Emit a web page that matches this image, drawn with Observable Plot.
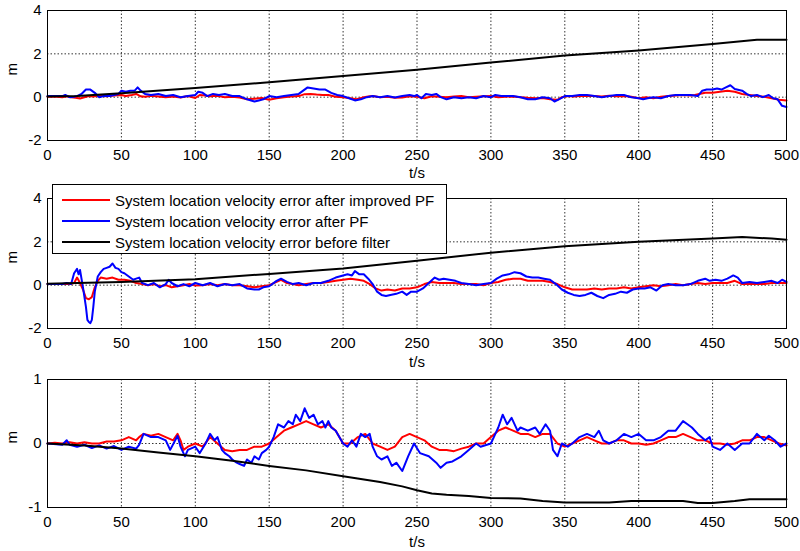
<!DOCTYPE html>
<html>
<head>
<meta charset="utf-8">
<script src="https://cdn.jsdelivr.net/npm/d3@7"></script>
<script src="https://cdn.jsdelivr.net/npm/@observablehq/plot@0.6"></script>
<style>
  html, body { margin: 0; padding: 0; background: #fff; }
  #wrap { position: relative; width: 800px; height: 551px; overflow: hidden; font-family: "Liberation Sans", Arial, sans-serif; }
  #wrap svg { position: absolute; left: 0; }
  #legend { position: absolute; left: 52px; top: 184px; width: 393px; height: 68px; background: #fff; border: 1px solid #000; font-size: 15px; }
  .row { position: absolute; left: 0; height: 20px; display: flex; align-items: center; }
  .sw { width: 48px; height: 2px; margin-left: 9px; margin-right: 5px; }
</style>
</head>
<body>
<div id="wrap"></div>
<script>
const xTicks = [0, 50, 100, 150, 200, 250, 300, 350, 400, 450, 500];
const yTicksA = [-2, 0, 2, 4];
const yTicksC = [-1, 0, 1];
const seriesNames = [
  "System location velocity error after improved PF",
  "System location velocity error after PF",
  "System location velocity error before filter"
];
const seriesColors = ["#ff0000", "#0000ff", "#000000"];

// Panel 1 : [t (s), error (m)]
const p1Red = [[0,0.02],[5,0.03],[10,0.0],[13,0.04],[16,0.0],[19,-0.03],[22,-0.06],[25,0.0],[28,0.05],[31,0.03],[35,0.06],[40,0.04],[45,0.08],[50,0.1],[53,0.05],[57,0.1],[60,0.15],[63,0.04],[66,0.02],[70,0.06],[75,0.03],[80,0.0],[85,0.03],[90,-0.02],[95,0.05],[100,-0.04],[103,0.1],[107,0.08],[110,0.04],[115,0.06],[120,0.0],[125,0.02],[130,-0.02],[135,-0.1],[140,-0.07],[145,-0.04],[150,-0.12],[155,-0.05],[160,0.0],[165,0.03],[170,0.05],[174,0.14],[178,0.15],[182,0.12],[186,0.1],[190,0.1],[195,0.02],[200,0.0],[205,-0.05],[209,-0.1],[213,-0.02],[217,0.03],[220,0.05],[225,0.0],[230,0.02],[235,-0.03],[240,-0.02],[245,0.04],[250,0.02],[255,-0.05],[260,0.04],[265,0.02],[270,0.0],[275,0.03],[280,0.05],[285,0.0],[290,0.02],[295,0.04],[300,0.05],[305,0.0],[310,0.02],[315,0.03],[320,0.0],[325,-0.03],[330,-0.05],[335,-0.04],[340,-0.1],[345,-0.12],[348,0.0],[352,0.05],[356,0.03],[360,0.05],[365,0.07],[370,0.05],[375,0.03],[380,0.06],[385,0.04],[390,0.05],[395,0.02],[400,-0.05],[405,0.0],[410,-0.05],[415,0.02],[420,0.05],[425,0.08],[430,0.1],[435,0.08],[438,0.1],[441,0.15],[445,0.2],[450,0.2],[455,0.25],[460,0.3],[465,0.25],[470,0.15],[475,0.1],[480,0.05],[485,0.02],[490,-0.05],[495,-0.12],[500,-0.15]];
const p1Blue = [[0,0.05],[5,0.05],[10,0.05],[12,0.1],[15,0.0],[18,0.02],[20,0.05],[23,0.15],[26,0.35],[29,0.35],[32,0.2],[35,0.0],[38,0.05],[42,0.05],[45,0.1],[48,0.15],[50,0.3],[53,0.25],[56,0.3],[59,0.3],[61,0.45],[63,0.3],[66,0.15],[70,0.1],[75,0.15],[80,0.05],[85,0.1],[90,0.0],[95,0.05],[100,0.1],[102,0.25],[105,0.2],[108,0.05],[112,0.15],[116,0.1],[120,0.15],[125,0.05],[130,0.05],[135,-0.1],[140,-0.2],[143,-0.15],[146,-0.1],[150,0.05],[155,0.0],[160,0.05],[165,0.1],[170,0.15],[173,0.3],[176,0.45],[180,0.4],[184,0.35],[188,0.35],[192,0.2],[196,0.1],[200,0.05],[204,-0.05],[208,-0.15],[212,-0.1],[216,0.0],[220,0.05],[225,0.0],[230,0.05],[235,-0.02],[240,0.05],[245,0.1],[248,0.05],[250,0.1],[253,-0.05],[256,0.15],[260,0.1],[263,0.15],[266,0.0],[270,-0.1],[275,0.0],[280,-0.05],[285,0.0],[290,-0.05],[295,0.05],[300,0.0],[303,0.1],[307,0.05],[310,0.05],[315,0.05],[320,0.0],[325,-0.1],[330,-0.1],[335,0.0],[340,-0.05],[343,-0.2],[346,-0.1],[350,0.05],[355,0.05],[360,0.1],[365,0.1],[370,0.05],[375,0.0],[380,0.05],[385,0.1],[390,0.1],[395,0.0],[400,-0.05],[403,-0.1],[406,-0.05],[410,0.0],[415,-0.05],[420,0.05],[425,0.1],[430,0.1],[435,0.1],[440,0.05],[443,0.3],[446,0.35],[450,0.35],[453,0.4],[456,0.35],[459,0.45],[462,0.55],[465,0.38],[470,0.3],[473,0.15],[476,0.05],[480,0.1],[484,0.0],[488,0.1],[491,-0.05],[494,-0.1],[497,-0.4],[500,-0.45]];
const p1Black = [[0,0.03],[20,0.05],[50,0.18],[100,0.42],[150,0.69],[200,0.98],[250,1.26],[300,1.6],[350,1.92],[400,2.15],[450,2.45],[480,2.65],[500,2.65]];

// Panel 2
const p2Red = [[0,0.05],[10,0.05],[15,0.05],[18,0.1],[20,0.35],[22,0.1],[24,-0.2],[26,-0.6],[28,-0.65],[30,-0.55],[32,-0.1],[34,0.2],[36,0.35],[40,0.3],[44,0.35],[48,0.25],[52,0.25],[56,0.2],[60,0.1],[64,0.05],[68,0.0],[72,0.05],[76,-0.05],[80,0.0],[84,-0.1],[88,-0.05],[92,0.0],[96,0.05],[100,-0.02],[105,0.0],[110,0.05],[115,0.0],[120,0.05],[125,0.0],[130,0.0],[135,-0.05],[140,-0.1],[145,-0.05],[150,0.0],[155,0.15],[158,0.25],[162,0.1],[166,0.05],[170,0.0],[175,0.05],[180,0.1],[185,0.1],[190,0.15],[195,0.2],[200,0.25],[205,0.3],[210,0.25],[214,0.2],[218,0.05],[222,-0.15],[226,-0.25],[230,-0.2],[235,-0.25],[240,-0.15],[245,-0.15],[250,-0.1],[255,0.05],[260,0.15],[265,0.1],[270,0.1],[275,0.1],[280,0.05],[285,0.05],[290,0.05],[295,0.0],[300,0.1],[305,0.15],[310,0.25],[315,0.3],[320,0.3],[325,0.2],[330,0.2],[335,0.2],[340,0.15],[345,0.05],[350,-0.1],[355,-0.2],[360,-0.2],[365,-0.2],[370,-0.15],[375,-0.2],[380,-0.15],[385,-0.15],[390,-0.1],[395,-0.15],[400,-0.1],[405,-0.05],[410,0.0],[415,-0.05],[420,0.0],[425,0.05],[430,0.0],[435,0.05],[440,0.1],[445,0.05],[450,0.1],[455,0.1],[460,0.1],[465,0.2],[470,0.05],[475,0.05],[480,0.05],[485,0.05],[490,0.1],[495,0.1],[500,0.1]];
const p2Blue = [[0,0.05],[10,0.05],[13,0.1],[16,0.05],[18,0.55],[20,0.75],[21,0.5],[22,0.7],[23,0.3],[24,-0.1],[26,-1.0],[27,-1.6],[28,-1.7],[29,-1.75],[30,-1.6],[31,-1.0],[32,-0.3],[34,0.4],[36,0.6],[38,0.75],[40,0.8],[42,0.85],[44,1.0],[46,0.8],[48,0.75],[50,0.6],[52,0.55],[55,0.4],[58,0.25],[60,0.3],[62,0.35],[64,0.1],[68,0.0],[72,0.1],[76,-0.1],[80,0.05],[82,0.25],[84,0.1],[88,-0.05],[92,0.05],[96,-0.05],[100,0.1],[105,0.0],[110,0.1],[115,-0.05],[120,0.05],[125,0.0],[130,0.05],[135,-0.15],[140,-0.2],[143,-0.2],[146,-0.1],[150,-0.05],[155,0.2],[158,0.3],[162,0.15],[166,0.05],[170,0.1],[175,0.0],[180,0.1],[185,0.1],[190,0.2],[195,0.35],[200,0.45],[203,0.5],[206,0.45],[208,0.65],[211,0.5],[214,0.5],[217,0.3],[220,0.05],[223,-0.3],[226,-0.45],[229,-0.5],[232,-0.45],[236,-0.4],[240,-0.3],[243,-0.45],[246,-0.3],[250,-0.3],[254,-0.15],[258,0.1],[262,0.35],[265,0.25],[268,0.3],[272,0.25],[276,0.2],[280,0.1],[285,0.05],[290,0.0],[295,0.05],[300,0.1],[304,0.3],[308,0.45],[312,0.5],[316,0.6],[320,0.55],[324,0.4],[328,0.35],[332,0.35],[336,0.3],[340,0.25],[344,0.05],[348,-0.2],[352,-0.35],[356,-0.45],[360,-0.5],[364,-0.45],[368,-0.35],[372,-0.5],[376,-0.6],[380,-0.45],[384,-0.4],[388,-0.3],[392,-0.35],[396,-0.2],[400,-0.15],[404,-0.15],[408,-0.1],[412,-0.25],[416,0.0],[420,0.05],[425,0.0],[430,0.0],[435,0.05],[440,0.2],[445,0.3],[448,0.2],[452,0.25],[456,0.2],[460,0.3],[464,0.45],[467,0.35],[470,0.1],[475,0.15],[480,0.1],[485,0.15],[490,0.2],[494,0.1],[497,0.25],[500,0.15]];
const p2Black = [[0,0.06],[20,0.1],[50,0.15],[100,0.27],[150,0.52],[200,0.77],[250,1.13],[300,1.5],[350,1.8],[400,2.0],[450,2.15],[470,2.22],[490,2.15],[500,2.1]];

// Panel 3
const p3Red = [[0,0.0],[5,0.01],[10,0.0],[15,0.02],[20,0.0],[25,0.02],[30,0.0],[35,0.0],[40,0.03],[45,0.03],[50,0.05],[55,0.1],[60,0.05],[62,0.1],[65,0.15],[70,0.12],[75,0.15],[80,0.1],[85,0.05],[88,0.15],[90,0.05],[92,-0.1],[95,-0.05],[100,0.0],[105,-0.05],[110,0.1],[115,0.0],[120,-0.1],[125,-0.12],[130,-0.1],[135,-0.1],[140,-0.05],[145,-0.05],[150,0.0],[155,0.1],[160,0.2],[165,0.25],[170,0.3],[175,0.35],[180,0.3],[185,0.25],[190,0.3],[195,0.2],[200,0.0],[205,0.0],[210,0.1],[215,0.15],[220,0.0],[225,-0.05],[230,-0.1],[235,-0.05],[240,0.1],[245,0.15],[250,0.1],[255,0.05],[260,-0.05],[265,-0.1],[270,-0.1],[275,-0.12],[280,-0.08],[285,-0.05],[290,0.0],[295,0.0],[300,0.1],[305,0.2],[310,0.25],[315,0.2],[320,0.15],[325,0.15],[330,0.1],[335,0.15],[340,0.15],[345,0.0],[350,-0.05],[355,0.0],[360,0.05],[365,0.1],[370,0.05],[375,0.0],[380,0.0],[385,0.05],[390,0.05],[395,0.0],[400,0.0],[405,-0.02],[410,0.0],[415,0.05],[420,0.1],[425,0.1],[430,0.15],[435,0.1],[440,0.05],[445,0.05],[450,0.0],[455,0.0],[460,-0.02],[465,0.0],[470,0.05],[475,0.05],[480,0.1],[485,0.1],[490,0.05],[495,0.0],[500,-0.03]];
const p3Blue = [[0,0.0],[10,-0.02],[13,0.05],[15,-0.02],[20,-0.05],[25,-0.02],[30,-0.07],[35,-0.03],[40,-0.08],[45,-0.04],[50,-0.1],[55,-0.05],[60,-0.08],[62,-0.02],[65,0.15],[70,0.1],[75,0.1],[80,0.05],[83,-0.1],[88,0.12],[90,-0.05],[93,-0.2],[95,-0.1],[100,-0.05],[103,-0.15],[107,0.0],[110,0.15],[113,0.05],[115,0.1],[118,-0.1],[120,-0.15],[123,-0.2],[125,-0.25],[128,-0.3],[130,-0.32],[133,-0.35],[135,-0.25],[138,-0.3],[140,-0.2],[143,-0.25],[145,-0.15],[148,-0.1],[150,-0.05],[153,0.1],[156,0.3],[160,0.25],[163,0.35],[166,0.3],[168,0.45],[171,0.35],[174,0.55],[177,0.4],[180,0.45],[183,0.3],[186,0.35],[188,0.25],[190,0.35],[192,0.25],[195,0.2],[200,0.0],[203,-0.05],[206,0.05],[209,-0.05],[212,0.15],[215,0.1],[218,0.15],[220,-0.05],[223,-0.2],[226,-0.25],[230,-0.2],[233,-0.35],[236,-0.3],[240,-0.43],[244,-0.2],[248,0.0],[252,-0.15],[258,-0.2],[263,-0.3],[266,-0.38],[270,-0.3],[274,-0.28],[280,-0.2],[285,-0.1],[290,0.0],[293,-0.05],[300,0.0],[303,0.15],[305,0.25],[308,0.45],[311,0.3],[314,0.4],[318,0.2],[320,0.25],[325,0.2],[330,0.25],[333,0.15],[337,0.3],[340,0.2],[342,-0.1],[345,-0.2],[348,0.0],[352,-0.05],[355,0.0],[360,0.1],[365,0.15],[370,0.1],[373,0.2],[376,0.05],[380,0.0],[385,0.05],[390,0.15],[395,0.1],[400,0.15],[405,0.05],[410,0.05],[415,0.1],[420,0.2],[425,0.2],[430,0.35],[433,0.3],[436,0.25],[440,0.15],[445,0.05],[448,0.1],[450,-0.05],[455,-0.1],[460,0.0],[465,-0.1],[470,0.0],[475,0.0],[480,0.15],[485,0.05],[488,0.12],[492,0.05],[496,-0.05],[500,0.0]];
const p3Black = [[0,0],[25,-0.03],[50,-0.08],[75,-0.14],[100,-0.2],[125,-0.27],[150,-0.35],[175,-0.42],[200,-0.51],[225,-0.6],[240,-0.67],[250,-0.73],[260,-0.78],[270,-0.8],[285,-0.82],[300,-0.85],[320,-0.86],[335,-0.9],[350,-0.92],[380,-0.92],[395,-0.9],[430,-0.9],[440,-0.93],[450,-0.93],[465,-0.9],[475,-0.87],[500,-0.87]];

const FONT = "'Liberation Sans', Arial, sans-serif";
const fmt = d => String(d);

function panel(series, yDomain, yTicks, opts) {
  const marks = [
    Plot.gridX(xTicks, {stroke: "#000", strokeOpacity: 1, strokeWidth: 0.8, strokeDasharray: "1.5,2"}),
    Plot.gridY(yTicks, {stroke: "#000", strokeOpacity: 1, strokeWidth: 0.8, strokeDasharray: "1.5,2"})
  ];
  series.forEach((s, i) => {
    marks.push(Plot.line(s, {x: d => d[0], y: d => d[1], stroke: seriesColors[i], strokeWidth: 2}));
  });
  marks.push(
    Plot.frame({stroke: "#000", strokeWidth: 1}),
    Plot.axisX(xTicks, {tickSize: 0, tickPadding: 9, tickFormat: fmt, label: null, fontSize: 15}),
    Plot.axisY(yTicks, {tickSize: 0, tickPadding: 6, tickFormat: fmt, label: null, fontSize: 15}),
    Plot.text(["m"], {text: d => d, frameAnchor: "left", dx: -35, rotate: -90, lineAnchor: "middle", fontSize: 15}),
    Plot.text(["t/s"], {text: d => d, frameAnchor: "bottom", dy: opts.tsOffset, lineAnchor: "middle", fontSize: 15})
  );
  const svg = Plot.plot({
    width: 800,
    height: opts.height,
    marginTop: opts.marginTop,
    marginBottom: opts.marginBottom,
    marginLeft: 47,
    marginRight: 14,
    x: {domain: [0, 500]},
    y: {domain: yDomain},
    style: {fontFamily: FONT, fontSize: "15px", color: "#000", background: "transparent", overflow: "visible"},
    marks
  });
  svg.style.top = opts.top + "px";
  return svg;
}

const wrap = document.getElementById("wrap");
wrap.appendChild(panel([p1Red, p1Blue, p1Black], [-2, 4], yTicksA, {top: 0, height: 180, marginTop: 10, marginBottom: 40, tsOffset: 33}));
wrap.appendChild(panel([p2Red, p2Blue, p2Black], [-2, 4], yTicksA, {top: 180, height: 188, marginTop: 18, marginBottom: 40, tsOffset: 34}));
wrap.appendChild(panel([p3Red, p3Blue, p3Black], [-1, 1], yTicksC, {top: 368, height: 183, marginTop: 11, marginBottom: 44, tsOffset: 35}));

// legend
const legend = document.createElement("div");
legend.id = "legend";
seriesNames.forEach((name, i) => {
  const row = document.createElement("div");
  row.className = "row";
  row.style.top = (5 + i * 21) + "px";
  const sw = document.createElement("div");
  sw.className = "sw";
  sw.style.background = seriesColors[i];
  const label = document.createElement("span");
  label.textContent = name;
  row.appendChild(sw);
  row.appendChild(label);
  legend.appendChild(row);
});
wrap.appendChild(legend);
</script>
</body>
</html>
